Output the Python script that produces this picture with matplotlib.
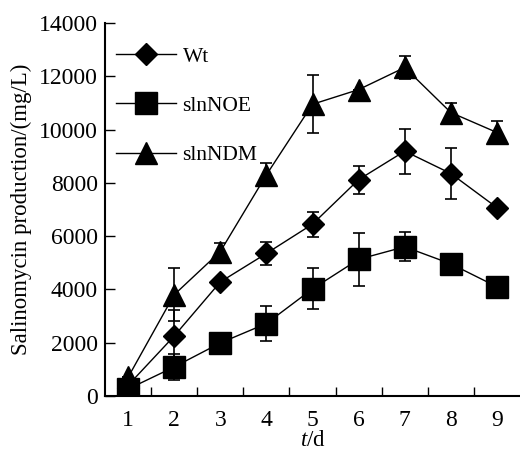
import matplotlib.pyplot as plt
import numpy as np

# datos
days = [1, 2, 3, 4, 5, 6, 7, 8, 9]
wt = [400, 2250, 4280, 5350, 6450, 8120, 9190, 8350, 7070]
wt_err = [0, 980, 0, 430, 470, 520, 850, 940, 0]
noe = [260, 1090, 1990, 2720, 4020, 5130, 5600, 4960, 4100]
noe_err = [0, 500, 0, 660, 770, 1000, 540, 0, 0]
ndm = [700, 3800, 5420, 8300, 10950, 11500, 12330, 10640, 9890]
ndm_err = [0, 1000, 340, 430, 1080, 0, 450, 340, 450]
yticks = [0, 2000, 4000, 6000, 8000, 10000, 12000, 14000]

plt.rcParams['font.family'] = 'Liberation Serif'
plt.rcParams['mathtext.fontset'] = 'custom'
plt.rcParams['mathtext.rm'] = 'Liberation Serif'
plt.rcParams['mathtext.it'] = 'Liberation Serif:italic'

fig = plt.figure(figsize=(5.2, 4.53), dpi=100)
ax = fig.add_axes([105 / 520, 1 - 396 / 453, 415 / 520, 373 / 453])

common = dict(color='black', lw=1.0, ecolor='black', elinewidth=1.2,
              capsize=4.5, capthick=1.2, markeredgecolor='black',
              markerfacecolor='black')
c1 = ax.errorbar(days, wt, yerr=wt_err, marker='D', ms=11, **common)
c2 = ax.errorbar(days, noe, yerr=noe_err, marker='s', ms=16, **common)
c3 = ax.errorbar(days, ndm, yerr=ndm_err, marker='^', ms=16, **common)

ax.set_xlim(0.5, 9.5)
ax.set_ylim(0, 14000)
ax.set_xticks(days)
ax.set_xticks(np.arange(1.5, 9, 1), minor=True)
ax.set_yticks(yticks)
ax.tick_params(axis='x', which='major', length=0, labelsize=17, pad=10)
ax.tick_params(axis='x', which='minor', direction='in', length=6.5, width=1)
ax.tick_params(axis='y', direction='in', length=7, width=1, labelsize=17, pad=5)

for s in ['top', 'right']:
    ax.spines[s].set_visible(False)
for s in ['left', 'bottom']:
    ax.spines[s].set_linewidth(1.5)

ax.set_ylabel('Salinomycin production/(mg/L)', fontsize=16.5, labelpad=5)
ax.set_xlabel('$t$/d', fontsize=16.5, labelpad=-1)

# leyenda sin barras de error
ax.legend([c1[0], c2[0], c3[0]], ['Wt', 'slnNOE', 'slnNDM'],
          loc='upper left', bbox_to_anchor=(0.0, 0.965), frameon=False,
          fontsize=15.5, handlelength=2.8, handletextpad=0.3,
          labelspacing=1.35, borderpad=0.3, borderaxespad=0.2)

fig.savefig('out.png', dpi=100)
